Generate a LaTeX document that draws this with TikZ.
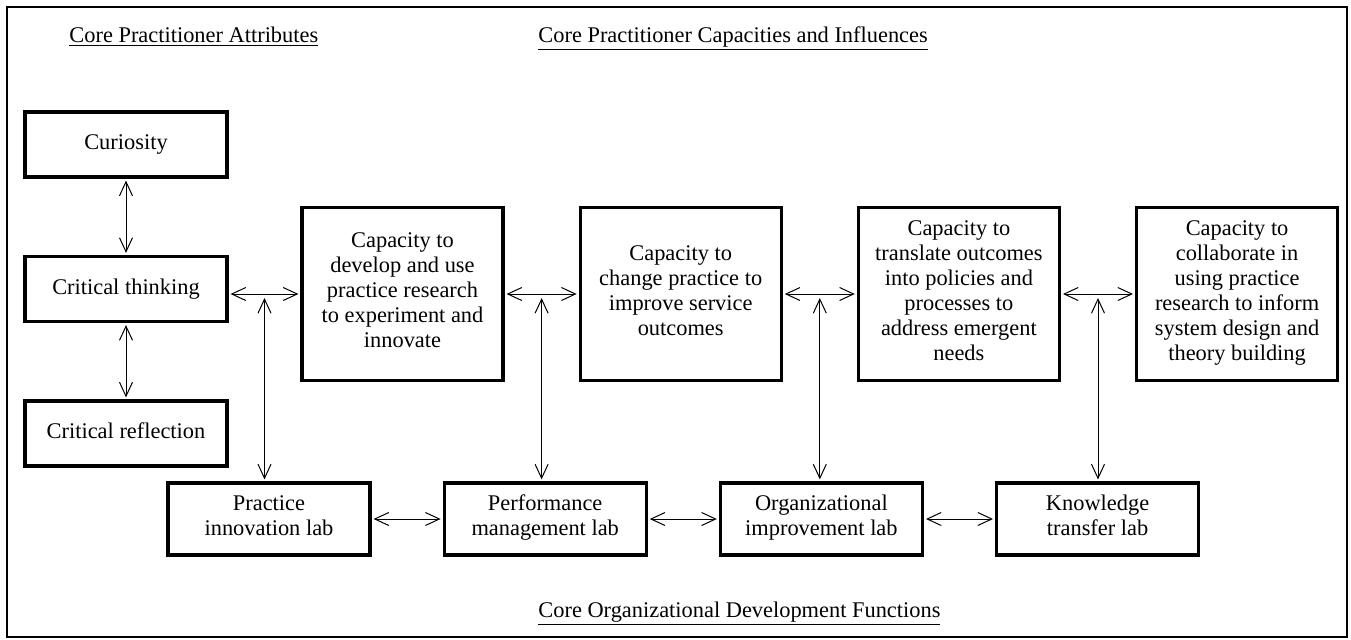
\documentclass[tikz,border=0pt]{standalone}
\usepackage{fontspec}
\setmainfont{Liberation Serif}
\usepackage{tikz}
\usetikzlibrary{positioning}
\usetikzlibrary{calc}
\usetikzlibrary{arrows.meta}
\tikzset{
    every picture/.append style={
        >={Straight Barb[length=7pt,width=6.5pt]}
    }
}
\tikzset{
    box/.style={draw=black, line width=1.6pt, align=center, inner sep=0pt,
        execute at begin node=\strut, execute at end node=\strut},
    attrbox/.style={box, minimum width=101pt, minimum height=32.5pt},
    capbox/.style={box, minimum width=100.5pt, minimum height=86.5pt},
    labbox/.style={box, minimum width=101pt, minimum height=36pt},
    heading/.style={anchor=base west, inner sep=0pt},
    link/.style={<->, line width=0.5pt, shorten >=1pt, shorten <=1pt},
}

\begin{document}
\begin{tikzpicture}[x=0.5pt, y=-0.5pt, font=\fontsize{11.2}{12.5}\selectfont]
		\useasboundingbox (0,0) rectangle (1351,639);
		\draw[line width=1pt] (7,7) rectangle (1347,637);

		% headings
		\node[heading] (hattr) at (69,42) {\underline{Core Practitioner Attributes}};
		\node[heading] (hcap) at (538,42) {\underline{Core Practitioner Capacities and Influences}};
		\node[heading] (hfunc) at (538,617) {\underline{Core Organizational Development Functions}};

		% attributes
		\node[attrbox] (cur) at (126,144.5) {Curiosity};
		\node[attrbox] (think) at (126,289) {Critical thinking};
		\node[attrbox] (refl) at (126,433.5) {Critical reflection};

		% capacities
		\node[capbox] (cap1) at (402.5,294) {Capacity to\\develop and use\\practice research\\to experiment and\\innovate};
		\node[capbox, right=37pt of cap1] (cap2) {Capacity to\\change practice to\\improve service\\outcomes};
		\node[capbox, right=37pt of cap2] (cap3) {Capacity to\\translate outcomes\\into policies and\\processes to\\address emergent\\needs};
		\node[capbox, right=37pt of cap3] (cap4) {Capacity to\\collaborate in\\using practice\\research to inform\\system design and\\theory building};

		% labs
		\node[labbox] (lab1) at (269,519) {Practice\\innovation lab};
		\node[labbox, right=35.5pt of lab1] (lab2) {Performance\\management lab};
		\node[labbox, right=35.5pt of lab2] (lab3) {Organizational\\improvement lab};
		\node[labbox, right=35.5pt of lab3] (lab4) {Knowledge\\transfer lab};

		\path [link] (cur) edge (think);
		\path [link] (think) edge (refl);

		\draw [link] (think.east |- cap1.west) -- (cap1.west);
		\draw [link] (cap1) -- (cap2);
		\draw [link] (cap2) -- (cap3);
		\draw [link] (cap3) -- (cap4);

		\coordinate (j1) at ($(think.east |- cap1.west)!0.5!(cap1.west)$);
		\coordinate (j2) at ($(cap1.east)!0.5!(cap2.west)$);
		\coordinate (j3) at ($(cap2.east)!0.5!(cap3.west)$);
		\coordinate (j4) at ($(cap3.east)!0.5!(cap4.west)$);
		\foreach \i in {1,2,3,4}
			\draw [link] ([yshift=-1pt]j\i) -- (j\i |- lab\i.north);

		\path [link] (lab1) edge (lab2);
		\path [link] (lab2) edge (lab3);
		\path [link] (lab3) edge (lab4);
\end{tikzpicture}
\end{document}
